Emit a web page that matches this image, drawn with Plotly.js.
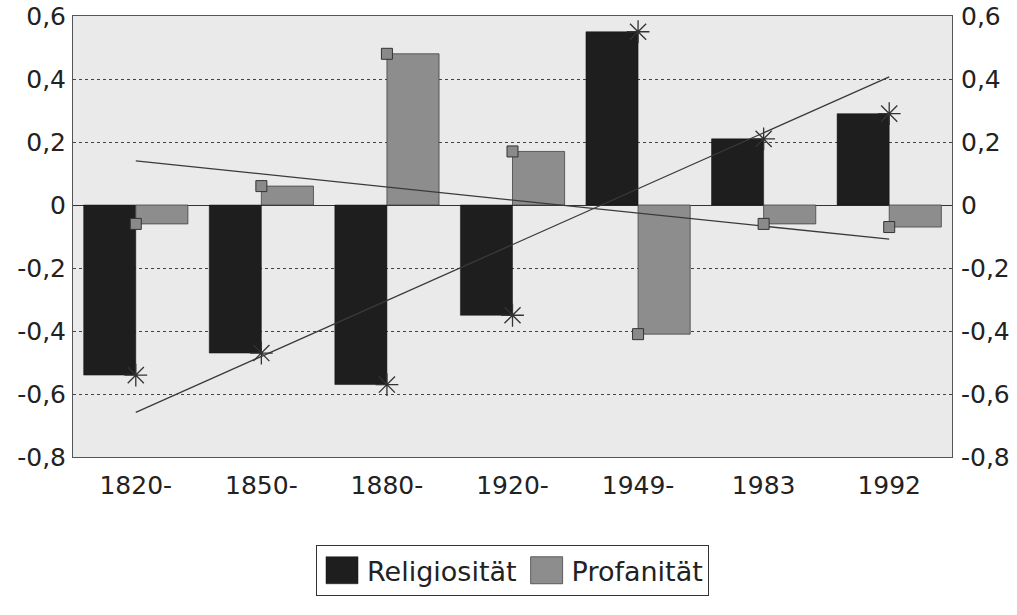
<!DOCTYPE html>
<html>
<head>
<meta charset="utf-8">
<script src="https://cdn.plot.ly/plotly-3.0.1.min.js"></script>
<style>
  html, body { margin: 0; padding: 0; background: #ffffff; }
  #chart { width: 1017px; height: 615px; }
</style>
</head>
<body>
<div id="chart"></div>
<script>
// ---- data ----
const categories = ['1820-', '1850-', '1880-', '1920-', '1949-', '1983', '1992'];
const religiositaet = [-0.54, -0.47, -0.57, -0.35, 0.55, 0.21, 0.29];
const profanitaet = [-0.06, 0.06, 0.48, 0.17, -0.41, -0.06, -0.07];
const seriesNames = ['Religiosität', 'Profanität'];
const yTickVals = [-0.8, -0.6, -0.4, -0.2, 0, 0.2, 0.4, 0.6];
const yTickText = ['-0,8', '-0,6', '-0,4', '-0,2', '0', '0,2', '0,4', '0,6'];

// linear least-squares trend over category index
function linearTrend(vals) {
  const n = vals.length;
  const xs = vals.map((_, i) => i);
  const mx = xs.reduce((a, b) => a + b, 0) / n;
  const my = vals.reduce((a, b) => a + b, 0) / n;
  let sxy = 0, sxx = 0;
  for (let i = 0; i < n; i++) { sxy += (xs[i] - mx) * (vals[i] - my); sxx += (xs[i] - mx) ** 2; }
  const b = sxy / sxx, a = my - b * mx;
  return xs.map(x => a + b * x);
}

const darkBar = '#1e1e1e';
const grayBar = '#8d8d8d';
const lineCol = '#3a3a3a';

const traces = [
  { type: 'bar', name: seriesNames[0], x: categories, y: religiositaet,
    marker: { color: darkBar, line: { color: '#111', width: 0.5 } }, hoverinfo: 'skip' },
  { type: 'bar', name: seriesNames[1], x: categories, y: profanitaet,
    marker: { color: grayBar, line: { color: '#444', width: 0.8 } }, hoverinfo: 'skip' },
  { type: 'scatter', mode: 'lines', x: categories, y: linearTrend(religiositaet), yaxis: 'y2',
    line: { color: lineCol, width: 1.3 }, showlegend: false, hoverinfo: 'skip' },
  { type: 'scatter', mode: 'lines', x: categories, y: linearTrend(profanitaet), yaxis: 'y2',
    line: { color: lineCol, width: 1.3 }, showlegend: false, hoverinfo: 'skip' },
  { type: 'scatter', mode: 'markers', x: categories, y: religiositaet, yaxis: 'y2',
    marker: { symbol: 'asterisk-open', size: 19, color: '#333', line: { color: '#333', width: 1.3 } },
    showlegend: false, hoverinfo: 'skip' },
  { type: 'scatter', mode: 'markers', x: categories, y: profanitaet, yaxis: 'y2',
    marker: { symbol: 'square', size: 11, color: '#8a8a8a', line: { color: '#333', width: 1 } },
    showlegend: false, hoverinfo: 'skip' }
];

const font = { family: 'DejaVu Sans, Arial, sans-serif', size: 25, color: '#222' };

const yCommon = {
  range: [-0.8, 0.6], tickmode: 'array', tickvals: yTickVals, ticktext: yTickText,
  ticks: '', tickfont: font, fixedrange: true
};

const layout = {
  width: 1017, height: 615,
  margin: { l: 73, r: 65, t: 16, b: 158 },
  paper_bgcolor: '#ffffff',
  plot_bgcolor: '#eaeaea',
  font: font,
  barmode: 'group', bargap: 0.17, bargroupgap: 0,
  showlegend: true,
  legend: {
    orientation: 'h', x: 0.5, xanchor: 'center', y: -0.2, yanchor: 'top',
    bgcolor: '#ffffff', bordercolor: '#333', borderwidth: 1,
    font: { family: 'DejaVu Sans, Arial, sans-serif', size: 27, color: '#222' },
    itemwidth: 40,
    traceorder: 'normal'
  },
  xaxis: {
    type: 'category', tickfont: font, ticks: '', showgrid: false, zeroline: false,
    showline: true, mirror: true, linecolor: '#555', linewidth: 1, ticklabelstandoff: 6,
    fixedrange: true
  },
  yaxis: Object.assign({}, yCommon, {
    ticklabelstandoff: 1,
    showgrid: true, gridcolor: '#444', griddash: 'dot', gridwidth: 1,
    zeroline: true, zerolinecolor: '#333', zerolinewidth: 1,
    showline: true, mirror: true, linecolor: '#555', linewidth: 1
  }),
  yaxis2: Object.assign({}, yCommon, {
    ticklabelstandoff: 8,
    overlaying: 'y', side: 'right', showgrid: false, zeroline: false, showline: false
  })
};

Plotly.newPlot('chart', traces, layout, { staticPlot: true, displayModeBar: false }).then(function () {
  // enlarge the legend swatches to match the reference's big squares
  document.querySelectorAll('.legend .legendpoints path').forEach(function (p) {
    p.setAttribute('d', 'M16,13.5H-16V-13.5H16Z');
  });
});
</script>
</body>
</html>
